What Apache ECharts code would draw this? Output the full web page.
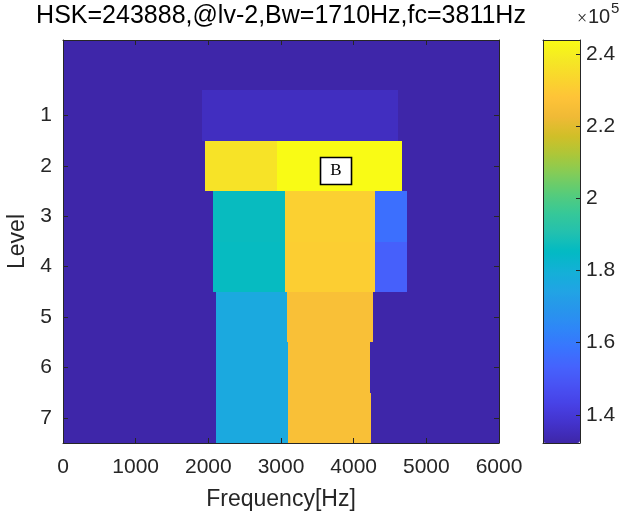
<!DOCTYPE html>
<html>
<head>
<meta charset="utf-8">
<script src="https://cdn.jsdelivr.net/npm/echarts@6.0.0/dist/echarts.min.js"></script>
<style>
  html, body { margin: 0; padding: 0; background: #fff; }
  #chart { width: 632px; height: 515px; }
</style>
</head>
<body>
<div id="chart"></div>
<script>
// kurtogram rows (level 0 at top)
const levels = [0, 1, 2, 3, 4, 5, 6, 7]
const backgroundValue = 132300

// coloured blocks: level, from Hz, to Hz, value
const blockLevel = [1, 2, 2, 3, 3, 3, 4, 4, 4, 5, 5, 6, 6, 7, 7]
const blockFrom = [1910, 1955, 2950, 2060, 3060, 4300, 2065, 3060, 4290, 2100, 3085, 2100, 3100, 2100, 3095]
const blockTo = [4610, 2950, 4665, 3060, 4300, 4730, 3060, 4290, 4730, 3085, 4265, 3100, 4225, 3095, 4240]
const blockValue = [135800, 236800, 243888, 186300, 231500, 157000, 186000, 231000, 152500, 176500, 226000, 176500, 226000, 176500, 226000]

const xTicks = [0, 1000, 2000, 3000, 4000, 5000, 6000]
const yTicks = [1, 2, 3, 4, 5, 6, 7]
const cbTicks = [140000, 160000, 180000, 200000, 220000, 240000]
const cbMin = 132200
const cbMax = 243900

const markerPos = [3757, 2.1]

const parula = ['#3e26a8', '#4332cb', '#4741e5', '#4852f4', '#4563fd', '#3875fe', '#2e87f7', '#2796eb',
  '#20a5e3', '#12b1d6', '#02bac3', '#24c1ae', '#37c897', '#57cc7a', '#81cc59', '#abc739',
  '#d1bf27', '#f0ba36', '#fec338', '#fad62d', '#f5e924', '#f9fb15']

const cells = []
levels.forEach(l => cells.push([0, 6000, l, backgroundValue]))
blockLevel.forEach((l, i) => cells.push([blockFrom[i], blockTo[i], l, blockValue[i]]))

const font = 'Liberation Sans'
const ink = '#262626'

const chart = echarts.init(document.getElementById('chart'))

const frameX = (pos, show) => ({
  type: 'value', gridIndex: 0, position: pos, min: 0, max: 6000, z: 10,
  axisLine: { show: true, onZero: false, lineStyle: { color: ink, width: 1 } },
  axisTick: { show: true, inside: true, length: 5, customValues: xTicks, lineStyle: { color: ink } },
  axisLabel: { show: show, customValues: xTicks, margin: 14, fontFamily: font, fontSize: 21, color: ink, formatter: v => String(v) },
  splitLine: { show: false }
})
const frameY = (pos, show) => ({
  type: 'value', gridIndex: 0, position: pos, min: -0.5, max: 7.5, inverse: true, z: 10,
  axisLine: { show: true, onZero: false, lineStyle: { color: ink, width: 1 } },
  axisTick: { show: true, inside: true, length: 5, customValues: yTicks, lineStyle: { color: ink } },
  axisLabel: { show: show, customValues: yTicks, margin: 11, fontFamily: font, fontSize: 21, color: ink },
  splitLine: { show: false }
})

const xBottom = frameX('bottom', true)
xBottom.name = 'Frequency[Hz]'
xBottom.nameLocation = 'middle'
xBottom.nameGap = 45
xBottom.nameTextStyle = { fontFamily: font, fontSize: 23, color: ink }
const yLeft = frameY('left', true)
yLeft.name = 'Level'
yLeft.nameLocation = 'middle'
yLeft.nameGap = 34
yLeft.nameTextStyle = { fontFamily: font, fontSize: 23, color: ink }

chart.setOption({
  animation: false,
  graphic: [
    { type: 'text', x: 281, y: 4, style: { text: 'HSK=243888,@lv-2,Bw=1710Hz,fc=3811Hz', textAlign: 'center', font: '25px "Liberation Sans"', fill: '#000' } },
    { type: 'text', x: 577, y: 10, style: { text: '×', font: '18px "Liberation Serif"', fill: ink } },
    { type: 'text', x: 588, y: 7, style: { text: '10', font: '20px "Liberation Sans"', fill: ink } },
    { type: 'text', x: 611, y: 1, style: { text: '5', font: '15px "Liberation Sans"', fill: ink } }
  ],
  grid: [
    { left: 63, top: 40, width: 436, height: 403, containLabel: false, outerBoundsMode: 'none' },
    { left: 543, top: 40, width: 37, height: 403, containLabel: false, outerBoundsMode: 'none' }
  ],
  xAxis: [
    xBottom,
    frameX('top', false),
    { type: 'value', gridIndex: 1, position: 'top', min: 0, max: 1, z: 10, axisLine: { show: true, onZero: false, lineStyle: { color: ink } }, axisTick: { show: false }, axisLabel: { show: false }, splitLine: { show: false } },
    { type: 'value', gridIndex: 1, position: 'bottom', min: 0, max: 1, z: 10, axisLine: { show: true, onZero: false, lineStyle: { color: ink } }, axisTick: { show: false }, axisLabel: { show: false }, splitLine: { show: false } }
  ],
  yAxis: [
    yLeft,
    frameY('right', false),
    { type: 'value', gridIndex: 1, position: 'left', min: cbMin, max: cbMax, z: 10, axisLine: { show: true, onZero: false, lineStyle: { color: ink } }, axisTick: { show: false }, axisLabel: { show: false }, splitLine: { show: false } },
    {
      type: 'value', gridIndex: 1, position: 'right', min: cbMin, max: cbMax, z: 10,
      axisLine: { show: true, onZero: false, lineStyle: { color: ink } },
      axisTick: { show: true, inside: true, length: 4, customValues: cbTicks, lineStyle: { color: ink } },
      axisLabel: { show: true, customValues: cbTicks, margin: 6, fontFamily: font, fontSize: 21, color: ink, formatter: v => String(Math.round(v / 1e4) / 10) },
      splitLine: { show: false }
    }
  ],
  visualMap: {
    type: 'continuous', min: cbMin, max: cbMax, seriesIndex: 0, dimension: 3,
    left: 543, top: 40, itemWidth: 37, itemHeight: 403, padding: 0,
    calculable: false, hoverLink: false,
    inRange: { color: parula }
  },
  series: [
    {
      type: 'custom', xAxisIndex: 0, yAxisIndex: 0, clip: true,
      encode: { x: [0, 1], y: 2 },
      renderItem: (params, api) => {
        const a = api.coord([api.value(0), api.value(2) - 0.5])
        const b = api.coord([api.value(1), api.value(2) + 0.5])
        const x0 = Math.round(a[0]), y0 = Math.round(a[1])
        const x1 = Math.round(b[0]), y1 = Math.round(b[1])
        return {
          type: 'rect',
          shape: { x: x0, y: y0, width: x1 - x0, height: y1 - y0 },
          style: { fill: api.visual('color') }
        }
      },
      data: cells
    },
    {
      type: 'scatter', xAxisIndex: 0, yAxisIndex: 0, z: 20,
      symbol: 'rect', symbolSize: [31, 27],
      itemStyle: { color: '#fff', borderColor: '#000', borderWidth: 1.5, opacity: 1 },
      label: { show: true, position: 'inside', formatter: 'B', color: '#000', fontFamily: 'Liberation Serif', fontSize: 17 },
      data: [markerPos]
    },
    { type: 'scatter', xAxisIndex: 2, yAxisIndex: 2, data: [] }
  ]
})
</script>
</body>
</html>
